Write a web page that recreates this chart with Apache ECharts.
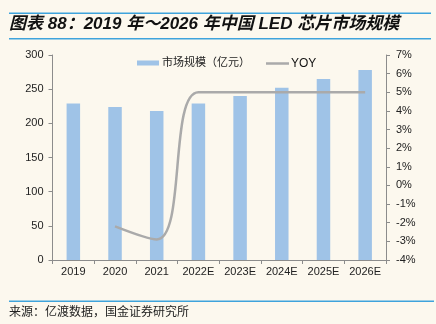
<!DOCTYPE html>
<html>
<head>
<meta charset="utf-8">
<script src="https://cdn.jsdelivr.net/npm/echarts@6/dist/echarts.min.js"></script>
<style>
  html, body { margin: 0; padding: 0; background: #fcf8ee; }
  #chart { width: 436px; height: 324px; }
</style>
</head>
<body>
<div id="chart"></div>
<script>
// China LED chip market size, 2019–2026E
const categories = ['2019', '2020', '2021', '2022E', '2023E', '2024E', '2025E', '2026E'];
const marketSize = [229, 224, 218, 229, 240, 252, 265, 278];   // 亿元
const yoy = [null, -2.2, -2.9, 5.0, 5.0, 5.0, 5.0, 5.0];         // %
const leftTicks = { min: 0, max: 300, interval: 50 };
const rightTicks = { min: -4, max: 7, interval: 1 };

const titleText = '图表 88：2019 年～2026 年中国 LED 芯片市场规模';
const sourceText = '来源：亿渡数据，国金证券研究所';

const FONT = 'Liberation Sans, Arial, "Noto Sans CJK SC", sans-serif';
const CJK = '"Noto Sans CJK SC", sans-serif';
const BAR_COLOR = '#9fc3e7';
const LINE_COLOR = '#aaaaaa';

const chart = echarts.init(document.getElementById('chart'), null, { renderer: 'canvas' });

chart.setOption({
  backgroundColor: '#fcf8ee',
  animation: false,
  textStyle: { fontFamily: FONT },
  graphic: [
    { type: 'rect', shape: { x: 9, y: 12.5, width: 422, height: 1.5 }, style: { fill: '#3ea3dc' } },
    { type: 'text', left: 9, top: 16, style: {
        text: titleText, fontSize: 17, fontWeight: 'bold', fontStyle: 'italic',
        fontFamily: FONT, fill: '#111' } },
    { type: 'rect', shape: { x: 9, y: 38, width: 422, height: 1.5 }, style: { fill: '#3ea3dc' } },
    { type: 'rect', shape: { x: 9, y: 300.5, width: 425, height: 1.5 }, style: { fill: '#3ea3dc' } },
    { type: 'text', left: 9, top: 305, style: {
        text: sourceText, fontSize: 12, fontFamily: CJK, fill: '#222' } }
  ],
  legend: [
    {
      left: 132, top: 52.5,
      itemWidth: 22, itemHeight: 5,
      textStyle: { fontSize: 11, color: '#222', fontFamily: FONT, padding: [0, 0, 0, -2] },
      data: [{ name: '市场规模（亿元）', icon: 'rect' }]
    },
    {
      left: 261, top: 52.5,
      itemWidth: 23, itemHeight: 2.5,
      textStyle: { fontSize: 12, color: '#111', fontFamily: FONT, padding: [0, 0, 0, -3] },
      data: [{ name: 'YOY', icon: 'rect', itemStyle: { color: LINE_COLOR } }]
    }
  ],
  grid: { left: 52.5, right: 50, top: 55, bottom: 64, containLabel: false },
  xAxis: {
    type: 'category',
    data: categories,
    axisLine: { lineStyle: { color: '#8c8c8c', width: 1 } },
    axisTick: { show: true, alignWithLabel: false, length: 4, lineStyle: { color: '#8c8c8c' } },
    axisLabel: { fontSize: 11, color: '#222', margin: 6 }
  },
  yAxis: [
    {
      type: 'value', min: leftTicks.min, max: leftTicks.max, interval: leftTicks.interval,
      position: 'left',
      splitLine: { show: false },
      axisLine: { show: true, lineStyle: { color: '#8c8c8c' } },
      axisTick: { show: true, length: 4, lineStyle: { color: '#8c8c8c' } },
      axisLabel: { fontSize: 11, color: '#222', margin: 9 }
    },
    {
      type: 'value', min: rightTicks.min, max: rightTicks.max, interval: rightTicks.interval,
      position: 'right',
      splitLine: { show: false },
      axisLine: { show: true, lineStyle: { color: '#8c8c8c' } },
      axisTick: { show: true, length: 4, lineStyle: { color: '#8c8c8c' } },
      axisLabel: { fontSize: 11, color: '#222', margin: 10, formatter: v => v + '%' }
    }
  ],
  series: [
    {
      name: '市场规模（亿元）',
      type: 'bar',
      data: marketSize,
      barWidth: 13.5,
      itemStyle: { color: BAR_COLOR }
    },
    {
      name: 'YOY',
      type: 'line',
      yAxisIndex: 1,
      data: yoy,
      smooth: 0.45,
      symbol: 'none',
      connectNulls: false,
      lineStyle: { color: LINE_COLOR, width: 2.5 },
      itemStyle: { color: LINE_COLOR }
    }
  ]
});
</script>
</body>
</html>
